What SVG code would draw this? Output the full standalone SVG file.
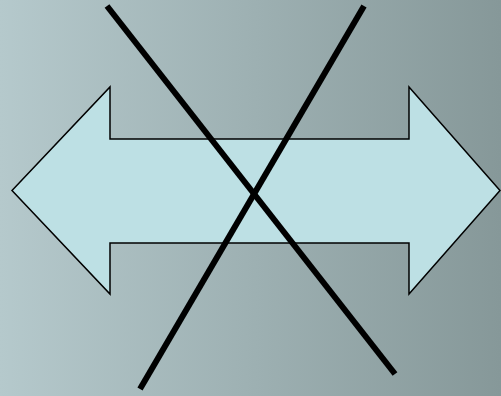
<svg xmlns="http://www.w3.org/2000/svg" width="501" height="396" viewBox="0 0 501 396">
  <defs>
    <linearGradient id="bg" x1="0" y1="0" x2="1" y2="0">
      <stop offset="0" stop-color="#b5c9cc"/>
      <stop offset="1" stop-color="#869899"/>
    </linearGradient>
    <style>
      .arrow { fill: #bde0e4; stroke: #000; stroke-width: 1.5; stroke-linejoin: miter; }
      .bar { stroke: #000; stroke-width: 6; stroke-linecap: butt; fill: none; }
    </style>
  </defs>
  <rect x="0" y="0" width="501" height="396" fill="url(#bg)"/>
  <g id="double-arrow">
    <polygon class="arrow" points="12,190.5 110,87 110,139 409,139 409,87 500,190.5 409,294 409,243 110,243 110,294"/>
  </g>
  <g id="connectors">
    <line class="bar" x1="107" y1="6" x2="395" y2="374"/>
    <line class="bar" x1="364" y1="6" x2="140" y2="389"/>
  </g>
</svg>
